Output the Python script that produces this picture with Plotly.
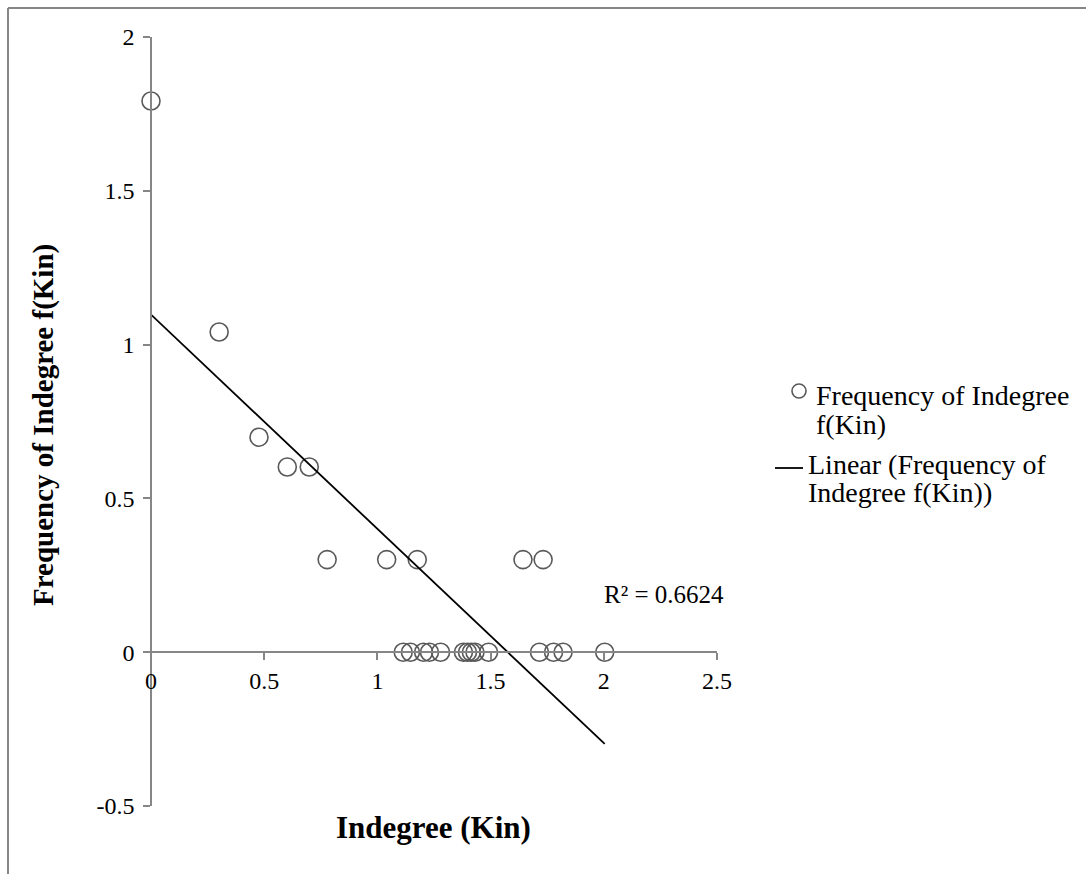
import numpy as np
import plotly.graph_objects as go

# log10 of indegree (Kin) and log10 of its frequency f(Kin)
log_kin = [0.000, 0.301, 0.477, 0.602, 0.699, 0.778, 1.041, 1.176, 1.643, 1.732,
           1.114, 1.146, 1.204, 1.230, 1.279, 1.380, 1.398, 1.415, 1.431, 1.491,
           1.716, 1.778, 1.820, 2.004]
log_freq = [1.792, 1.041, 0.699, 0.602, 0.602, 0.301, 0.301, 0.301, 0.301, 0.301,
            0.000, 0.000, 0.000, 0.000, 0.000, 0.000, 0.000, 0.000, 0.000, 0.000,
            0.000, 0.000, 0.000, 0.000]

x_ticks = [0, 0.5, 1, 1.5, 2, 2.5]
x_tick_text = ["0", "0.5", "1", "1.5", "2", "2.5"]
y_ticks = [-0.5, 0, 0.5, 1, 1.5, 2]
y_tick_text = ["-0.5", "0", "0.5", "1", "1.5", "2"]

r2_label = "R² = 0.6624"
series_name = "Frequency of Indegree f(Kin)"
trend_name = "Linear (Frequency of Indegree f(Kin))"

# least-squares trendline over the data's x extent
slope, intercept = np.polyfit(log_kin, log_freq, 1)
trend_x = [min(log_kin), max(log_kin)]
trend_y = [intercept + slope * v for v in trend_x]

W, H = 1086, 874
L, R, T, B = 151, 717, 37, 806          # plot area in pixels
FONT = "Liberation Serif, Times New Roman, serif"
AXIS_GRAY = "#868686"
MARK_GRAY = "#595959"


def px_x(p):
    return (p - L) / (R - L)


def px_y(p):
    return (B - p) / (B - T)


fig = go.Figure()

fig.add_trace(go.Scatter(
    x=log_kin, y=log_freq, mode="markers", name=series_name,
    marker=dict(symbol="circle-open", size=18, color=MARK_GRAY,
                line=dict(color=MARK_GRAY, width=1.6)),
    cliponaxis=False, showlegend=False,
))
fig.add_trace(go.Scatter(
    x=trend_x, y=trend_y, mode="lines", name=trend_name,
    line=dict(color="black", width=1.8),
    cliponaxis=False, showlegend=False,
))

y_min, y_max = -0.5, 2.0
fig.update_layout(
    width=W, height=H,
    margin=dict(l=L, r=W - R, t=T, b=H - B),
    paper_bgcolor="white", plot_bgcolor="white",
    font=dict(family=FONT, color="black", size=24),
    xaxis=dict(
        range=[0, 2.5], tickvals=x_ticks, ticktext=x_tick_text,
        anchor="free", position=(0 - y_min) / (y_max - y_min),
        showline=True, linecolor=AXIS_GRAY, linewidth=1.6,
        ticks="outside", ticklen=7, tickwidth=1.6, tickcolor=AXIS_GRAY,
        showgrid=False, zeroline=False,
        tickfont=dict(family=FONT, size=24, color="black"),
    ),
    yaxis=dict(
        range=[y_min, y_max], tickvals=y_ticks, ticktext=y_tick_text,
        anchor="free", position=0,
        showline=True, linecolor=AXIS_GRAY, linewidth=1.6,
        ticks="outside", ticklen=7, tickwidth=1.6, tickcolor=AXIS_GRAY,
        showgrid=False, zeroline=False,
        tickfont=dict(family=FONT, size=24, color="black"),
        ticklabelstandoff=4,
    ),
    showlegend=False,
)

annotations = [
    dict(text="<b>Indegree (Kin)</b>", x=px_x(433), y=px_y(827),
         font=dict(size=31)),
    dict(text="<b>Frequency of Indegree f(Kin)</b>", x=px_x(43), y=px_y(425),
         textangle=-90, font=dict(size=29)),
    dict(text=r2_label, x=px_x(602), y=px_y(594), xanchor="left",
         font=dict(size=25)),
    # legend text
    dict(text="Frequency of Indegree", x=px_x(814), y=px_y(395), xanchor="left",
         font=dict(size=28)),
    dict(text="f(Kin)", x=px_x(814), y=px_y(424), xanchor="left",
         font=dict(size=28)),
    dict(text="Linear (Frequency of", x=px_x(806), y=px_y(464), xanchor="left",
         font=dict(size=28)),
    dict(text="Indegree f(Kin))", x=px_x(806), y=px_y(493), xanchor="left",
         font=dict(size=28)),
]
for a in annotations:
    a.setdefault("xref", "paper")
    a.setdefault("yref", "paper")
    a.setdefault("xanchor", "center")
    a.setdefault("yanchor", "middle")
    a.setdefault("showarrow", False)
    a["font"] = dict(family=FONT, color="black", **a["font"])
    fig.add_annotation(**a)

shapes = [
    # chart-area border (left and top edges)
    dict(type="line", x0=px_x(8), x1=px_x(8), y0=px_y(H + 5), y1=px_y(8),
         line=dict(color=AXIS_GRAY, width=2)),
    dict(type="line", x0=px_x(8), x1=px_x(W + 5), y0=px_y(8), y1=px_y(8),
         line=dict(color=AXIS_GRAY, width=2)),
    # legend symbols
    dict(type="circle", xsizemode="pixel", ysizemode="pixel",
         xanchor=px_x(799), yanchor=px_y(391), x0=-7, x1=7, y0=-7, y1=7,
         line=dict(color=MARK_GRAY, width=1.6)),
    dict(type="line", x0=px_x(775), x1=px_x(803), y0=px_y(468), y1=px_y(468),
         line=dict(color="black", width=1.8)),
]
for s in shapes:
    s.setdefault("xref", "paper")
    s.setdefault("yref", "paper")
    fig.add_shape(**s)

fig.write_html("out.html")
